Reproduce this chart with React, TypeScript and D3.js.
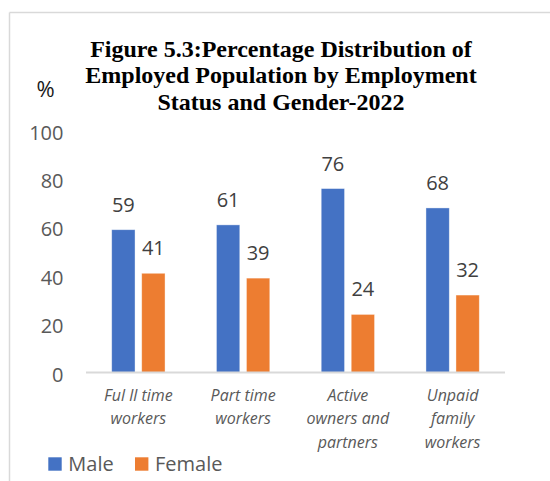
import React from "react";
import * as d3 from "d3";

const categories = ["Full time", "Part time", "Active owners", "Unpaid family"];
const categoryLines = [
  ["Ful ll time", "workers"],
  ["Part time", "workers"],
  ["Active", "owners and", "partners"],
  ["Unpaid", "family", "workers"],
];
const seriesNames = ["Male", "Female"];
const seriesColors = ["#4472C4", "#ED7D31"];
const maleValues = [59, 61, 76, 68];
const femaleValues = [41, 39, 24, 32];
const yTicks = [0, 20, 40, 60, 80, 100];
const titleLines = [
  "Figure 5.3:Percentage Distribution of",
  "Employed Population by Employment",
  "Status and Gender-2022",
];

const W = 550;
const H = 481;
const SANS = "'Open Sans', 'DejaVu Sans', sans-serif";

export default function App() {
  const x = d3
    .scaleBand<string>()
    .domain(categories)
    .range([86, 505])
    .paddingInner(0.491)
    .paddingOuter(0.2455);
  const xs = d3
    .scaleBand<string>()
    .domain(seriesNames)
    .range([0, x.bandwidth()])
    .paddingInner(0.223)
    .paddingOuter(0);
  const y = d3.scaleLinear().domain([0, 100]).range([372.5, 130.5]);
  const series = [maleValues, femaleValues];

  return (
    <svg
      width={W}
      height={H}
      style={{ position: "absolute", left: 0, top: 0, background: "#fff" }}
    >
      <rect x={0} y={0} width={W} height={H} fill="#fff" />
      {/* outer chart border */}
      <line x1={9.5} y1={12.5} x2={W} y2={12.5} stroke="#d9d9d9" strokeWidth={1.5} />
      <line x1={9.5} y1={12.5} x2={9.5} y2={H} stroke="#d9d9d9" strokeWidth={1.5} />

      {/* title */}
      <g
        fontFamily="'Liberation Serif', 'Times New Roman', serif"
        fontWeight="bold"
        fontSize={24}
        fill="#000"
        textAnchor="middle"
      >
        {titleLines.map((t, i) => (
          <text key={i} x={281} y={56.5 + i * 26.5}>
            {t}
          </text>
        ))}
      </g>

      {/* unit */}
      <text x={45.5} y={97} fontFamily={SANS} fontSize={22} fill="#1a1a1a" textAnchor="middle">
        %
      </text>

      {/* y tick labels */}
      <g fontFamily={SANS} fontSize={20} fill="#595959" textAnchor="end">
        {yTicks.map((t) => (
          <text key={t} x={63.5} y={y(t) + 1.5} dominantBaseline="central">
            {t}
          </text>
        ))}
      </g>

      {/* bars */}
      {categories.map((c, ci) => (
        <g key={c} transform={`translate(${x(c)},0)`}>
          {seriesNames.map((s, si) => {
            const v = series[si][ci];
            const bx = xs(s)!;
            return (
              <g key={s}>
                <rect
                  x={bx}
                  y={y(v)}
                  width={xs.bandwidth()}
                  height={y(0) - y(v)}
                  fill={seriesColors[si]}
                  stroke="#ffffff"
                  strokeOpacity={0.5}
                  strokeWidth={0.75}
                />
                <text
                  x={bx + xs.bandwidth() / 2}
                  y={y(v) - 18}
                  fontFamily={SANS}
                  fontSize={20}
                  fill="#404040"
                  textAnchor="middle"
                >
                  {v}
                </text>
              </g>
            );
          })}
        </g>
      ))}

      {/* x axis line */}
      <line
        x1={x.range()[0]}
        x2={x.range()[1]}
        y1={y(0)}
        y2={y(0)}
        stroke="#d9d9d9"
        strokeWidth={2}
      />

      {/* category labels */}
      <g fontFamily={SANS} fontSize={16} fontStyle="italic" fill="#595959" textAnchor="middle">
        {categories.map((c, ci) => (
          <text key={c} x={x(c)! + x.bandwidth() / 2} y={400.7}>
            {categoryLines[ci].map((ln, li) => (
              <tspan key={li} x={x(c)! + x.bandwidth() / 2} dy={li === 0 ? 0 : 23.7}>
                {ln}
              </tspan>
            ))}
          </text>
        ))}
      </g>

      {/* legend */}
      <g fontFamily={SANS} fontSize={20} fill="#595959">
        {seriesNames.map((s, si) => {
          const lx = [48.3, 135][si];
          return (
            <g key={s}>
              <rect x={lx} y={457.3} width={13.4} height={13.4} fill={seriesColors[si]} />
              <text x={lx + 20} y={470.7}>
                {s}
              </text>
            </g>
          );
        })}
      </g>
    </svg>
  );
}
